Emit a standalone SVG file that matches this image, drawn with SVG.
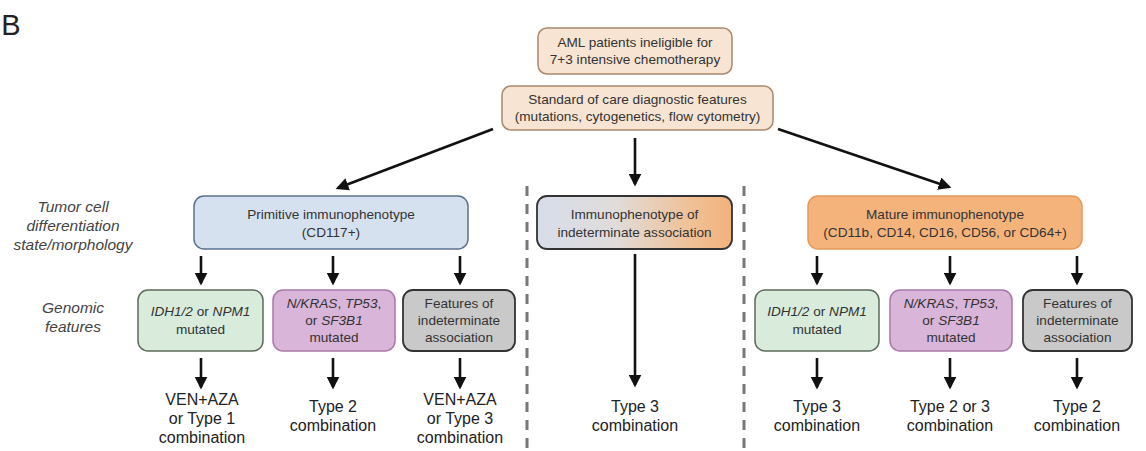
<svg xmlns="http://www.w3.org/2000/svg" width="1146" height="451" viewBox="0 0 1146 451">
<style>
text{font-family:"Liberation Sans",Arial,sans-serif;text-anchor:middle;fill:#333}
.bx{font-size:13.6px}
.lab{font-size:15.5px;font-style:italic;fill:#444}
.res{font-size:16px;fill:#222}
.it{font-style:italic}
.ln{stroke:#111;stroke-width:2.6;fill:none}
.dash{stroke:#777;stroke-width:3;stroke-dasharray:10 8;fill:none}
</style>
<defs>
<marker id="ah" viewBox="0 0 10 10" refX="8" refY="5" markerWidth="5" markerHeight="5" orient="auto" markerUnits="strokeWidth">
<path d="M0,0 L10,5 L0,10 z" fill="#111"/>
</marker>
<linearGradient id="gInd" x1="0" y1="0" x2="1" y2="0">
<stop offset="0" stop-color="#d7dde9"/>
<stop offset="0.4" stop-color="#e0dcda"/>
<stop offset="0.8" stop-color="#f0c094"/>
<stop offset="1" stop-color="#f2b27c"/>
</linearGradient>
</defs>
<rect width="1146" height="451" fill="#ffffff"/>
<text x="11" y="35" style="font-size:29px;fill:#222">B</text>

<g id="labels">
<text class="lab" x="73" y="212">Tumor cell</text>
<text class="lab" x="73" y="231">differentiation</text>
<text class="lab" x="73" y="250">state/morphology</text>
<text class="lab" x="73" y="313">Genomic</text>
<text class="lab" x="73" y="332">features</text>
</g>

<g id="dividers">
<line class="dash" x1="527" y1="186" x2="527" y2="451"/>
<line class="dash" x1="744" y1="186" x2="744" y2="451"/>
</g>

<g id="connectors">
<line class="ln" x1="493" y1="129" x2="338" y2="188" marker-end="url(#ah)"/>
<line class="ln" x1="635" y1="138" x2="635" y2="184" marker-end="url(#ah)"/>
<line class="ln" x1="778" y1="129" x2="949" y2="187" marker-end="url(#ah)"/>
<line class="ln" x1="201" y1="256" x2="201" y2="283" marker-end="url(#ah)"/>
<line class="ln" x1="333" y1="256" x2="333" y2="283" marker-end="url(#ah)"/>
<line class="ln" x1="460" y1="256" x2="460" y2="283" marker-end="url(#ah)"/>
<line class="ln" x1="817" y1="256" x2="817" y2="283" marker-end="url(#ah)"/>
<line class="ln" x1="950" y1="256" x2="950" y2="283" marker-end="url(#ah)"/>
<line class="ln" x1="1077" y1="256" x2="1077" y2="283" marker-end="url(#ah)"/>
<line class="ln" x1="635" y1="254" x2="635" y2="385" marker-end="url(#ah)"/>
<line class="ln" x1="201" y1="358" x2="201" y2="387" marker-end="url(#ah)"/>
<line class="ln" x1="333" y1="358" x2="333" y2="387" marker-end="url(#ah)"/>
<line class="ln" x1="460" y1="358" x2="460" y2="387" marker-end="url(#ah)"/>
<line class="ln" x1="817" y1="358" x2="817" y2="387" marker-end="url(#ah)"/>
<line class="ln" x1="950" y1="358" x2="950" y2="387" marker-end="url(#ah)"/>
<line class="ln" x1="1077" y1="358" x2="1077" y2="387" marker-end="url(#ah)"/>
</g>

<g id="n-aml">
<rect x="538" y="28" width="194" height="46" rx="9" fill="#f7e4d2" stroke="#a8896e" stroke-width="1.5"/>
<text class="bx" x="635" y="47">AML patients ineligible for</text>
<text class="bx" x="635" y="64">7+3 intensive chemotherapy</text>
</g>
<g id="n-soc">
<rect x="502" y="86" width="271" height="44" rx="9" fill="#f7e4d2" stroke="#a8896e" stroke-width="1.5"/>
<text class="bx" x="637.5" y="104">Standard of care diagnostic features</text>
<text class="bx" x="637.5" y="121">(mutations, cytogenetics, flow cytometry)</text>
</g>

<g id="n-primitive">
<rect x="194" y="196" width="274" height="53" rx="10" fill="#d6e1ef" stroke="#5c7290" stroke-width="1.5"/>
<text class="bx" x="331" y="219">Primitive immunophenotype</text>
<text class="bx" x="331" y="237">(CD117+)</text>
</g>
<g id="n-indeterminate">
<rect x="537" y="196" width="195" height="53" rx="10" fill="url(#gInd)" stroke="#333" stroke-width="1.8"/>
<text class="bx" x="634.5" y="219">Immunophenotype of</text>
<text class="bx" x="634.5" y="237">indeterminate association</text>
</g>
<g id="n-mature">
<rect x="808" y="196" width="274" height="53" rx="10" fill="#f5b37c" stroke="#e59a5c" stroke-width="1.5"/>
<text class="bx" x="945" y="219">Mature immunophenotype</text>
<text class="bx" x="945" y="237">(CD11b, CD14, CD16, CD56, or CD64+)</text>
</g>

<g id="n-idh-l">
<rect x="138" y="290" width="125" height="61" rx="10" fill="#d9ebdb" stroke="#5d6b5e" stroke-width="1.5"/>
<text class="bx" x="200.5" y="316"><tspan class="it">IDH1/2</tspan> or <tspan class="it">NPM1</tspan></text>
<text class="bx" x="200.5" y="334">mutated</text>
</g>
<g id="n-kras-l">
<rect x="273" y="290" width="122" height="61" rx="10" fill="#d8b5d9" stroke="#a878a8" stroke-width="1.5"/>
<text class="bx" x="334" y="308"><tspan class="it">N/KRAS</tspan>, <tspan class="it">TP53</tspan>,</text>
<text class="bx" x="334" y="325">or <tspan class="it">SF3B1</tspan></text>
<text class="bx" x="334" y="342">mutated</text>
</g>
<g id="n-feat-l">
<rect x="403" y="290" width="112" height="61" rx="10" fill="#c9c9c9" stroke="#333" stroke-width="1.8"/>
<text class="bx" x="459" y="308">Features of</text>
<text class="bx" x="459" y="325">indeterminate</text>
<text class="bx" x="459" y="342">association</text>
</g>

<g id="n-idh-r">
<rect x="755" y="290" width="124" height="61" rx="10" fill="#d9ebdb" stroke="#5d6b5e" stroke-width="1.5"/>
<text class="bx" x="817" y="316"><tspan class="it">IDH1/2</tspan> or <tspan class="it">NPM1</tspan></text>
<text class="bx" x="817" y="334">mutated</text>
</g>
<g id="n-kras-r">
<rect x="890" y="290" width="122" height="61" rx="10" fill="#d8b5d9" stroke="#a878a8" stroke-width="1.5"/>
<text class="bx" x="951" y="308"><tspan class="it">N/KRAS</tspan>, <tspan class="it">TP53</tspan>,</text>
<text class="bx" x="951" y="325">or <tspan class="it">SF3B1</tspan></text>
<text class="bx" x="951" y="342">mutated</text>
</g>
<g id="n-feat-r">
<rect x="1023" y="290" width="109" height="61" rx="10" fill="#c9c9c9" stroke="#333" stroke-width="1.8"/>
<text class="bx" x="1077.5" y="308">Features of</text>
<text class="bx" x="1077.5" y="325">indeterminate</text>
<text class="bx" x="1077.5" y="342">association</text>
</g>

<g id="results">
<text class="res" x="202" y="405">VEN+AZA</text>
<text class="res" x="202" y="424">or Type 1</text>
<text class="res" x="202" y="443">combination</text>
<text class="res" x="333" y="412">Type 2</text>
<text class="res" x="333" y="431">combination</text>
<text class="res" x="460" y="405">VEN+AZA</text>
<text class="res" x="460" y="424">or Type 3</text>
<text class="res" x="460" y="443">combination</text>
<text class="res" x="635" y="412">Type 3</text>
<text class="res" x="635" y="431">combination</text>
<text class="res" x="817" y="412">Type 3</text>
<text class="res" x="817" y="431">combination</text>
<text class="res" x="950" y="412">Type 2 or 3</text>
<text class="res" x="950" y="431">combination</text>
<text class="res" x="1077" y="412">Type 2</text>
<text class="res" x="1077" y="431">combination</text>
</g>
</svg>
